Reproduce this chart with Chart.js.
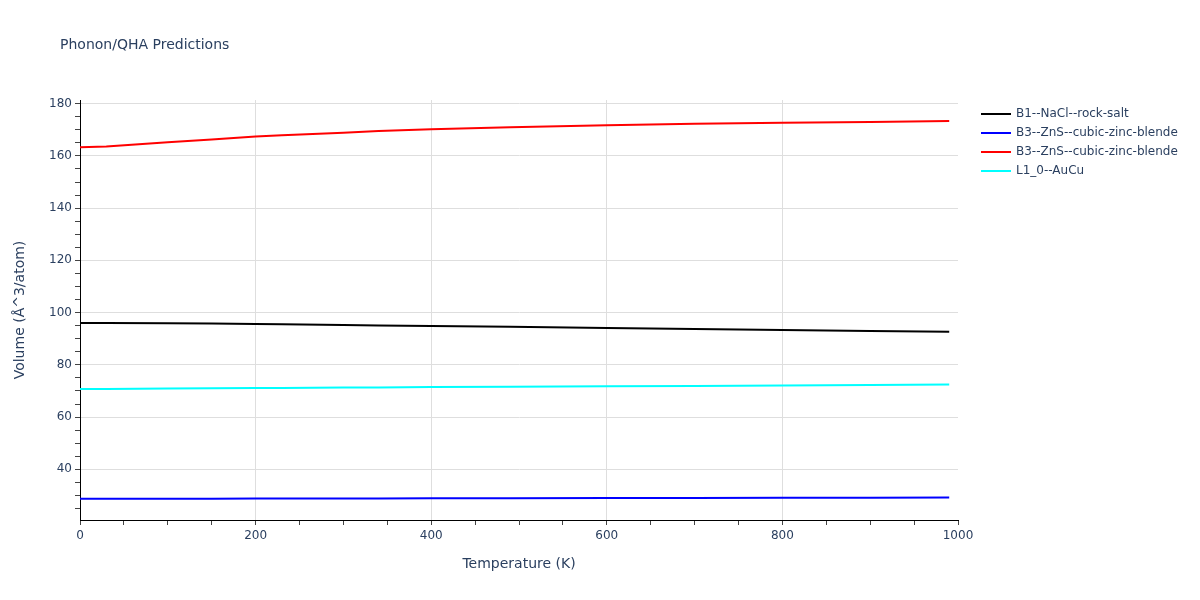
<!DOCTYPE html>
<html lang="en">
<head>
  <meta charset="UTF-8">
  <title>Phonon/QHA Predictions</title>
  <script src="https://cdn.jsdelivr.net/npm/chart.js"></script>
  <style>
    html, body { margin: 0; padding: 0; background: #fff; }
    #wrap { width: 1200px; height: 600px; }
  </style>
</head>
<body>
  <div id="wrap"><canvas id="chart" width="1200" height="600"></canvas></div>
  <script>
    // values
    const temperatures = [0, 30, 100, 150, 200, 230, 300, 340, 400, 490, 600, 700, 800, 900, 990];
    const rockSalt   = [96.0, 96.0, 95.9, 95.8, 95.6, 95.5, 95.3, 95.1, 94.9, 94.6, 94.1, 93.7, 93.3, 93.0, 92.7];
    const zincBlende1 = [28.7, 28.7, 28.7, 28.7, 28.8, 28.8, 28.8, 28.8, 28.9, 28.9, 29.0, 29.0, 29.1, 29.1, 29.2];
    const zincBlende2 = [163.3, 163.6, 165.2, 166.3, 167.4, 167.9, 168.9, 169.5, 170.2, 171.0, 171.7, 172.3, 172.7, 173.0, 173.4];
    const auCu       = [70.8, 70.8, 70.9, 71.0, 71.1, 71.1, 71.3, 71.3, 71.5, 71.6, 71.8, 71.9, 72.1, 72.3, 72.5];
    const seriesNames = ['B1--NaCl--rock-salt', 'B3--ZnS--cubic-zinc-blende', 'B3--ZnS--cubic-zinc-blende', 'L1_0--AuCu'];
    const seriesColors = ['#000000', '#0000ff', '#ff0000', '#00ffff'];
    const xTicks = [0, 50, 100, 150, 200, 250, 300, 350, 400, 450, 500, 550, 600, 650, 700, 750, 800, 850, 900, 950, 1000];
    const xLabels = [0, 200, 400, 600, 800, 1000];
    const yTicks = [25, 30, 35, 40, 45, 50, 55, 60, 65, 70, 75, 80, 85, 90, 95, 100, 105, 110, 115, 120, 125, 130, 135, 140, 145, 150, 155, 160, 165, 170, 175, 180];
    const yLabels = [40, 60, 80, 100, 120, 140, 160, 180];

    const font = "'DejaVu Sans', Verdana, sans-serif";
    const textColor = '#2a3f5f';
    const gridColor = '#dedede';

    const toPoints = vals => vals.map((v, i) => ({ x: temperatures[i], y: v }));
    const allSeries = [rockSalt, zincBlende1, zincBlende2, auCu];

    // title and legend drawn by hand, plotly style
    const extras = {
      id: 'extras',
      afterDraw(chart) {
        const ctx = chart.ctx;
        ctx.save();
        ctx.font = '14px ' + font;
        ctx.fillStyle = textColor;
        ctx.textBaseline = 'middle';
        ctx.fillText('Phonon/QHA Predictions', 60, 45);
        ctx.font = '12px ' + font;
        chart.data.datasets.forEach((ds, i) => {
          const y = 114 + i * 19;
          ctx.strokeStyle = ds.borderColor;
          ctx.lineWidth = 2;
          ctx.beginPath();
          ctx.moveTo(981, y);
          ctx.lineTo(1011, y);
          ctx.stroke();
          ctx.fillStyle = textColor;
          ctx.fillText(ds.label, 1016, y);
        });
        ctx.restore();
      }
    };

    new Chart(document.getElementById('chart'), {
      type: 'line',
      data: {
        datasets: allSeries.map((vals, i) => ({
          label: seriesNames[i],
          data: toPoints(vals),
          borderColor: seriesColors[i],
          backgroundColor: seriesColors[i],
          borderWidth: 2,
          pointRadius: 0,
          tension: 0,
          fill: false
        }))
      },
      options: {
        responsive: false,
        animation: false,
        layout: { padding: { top: 100, right: 242, left: 0, bottom: 0 } },
        plugins: { legend: { display: false }, tooltip: { enabled: false } },
        scales: {
          x: {
            type: 'linear',
            min: 0,
            max: 1000,
            afterBuildTicks: s => { s.ticks = xTicks.map(v => ({ value: v })); },
            afterFit: s => { s.height = 80; },
            ticks: {
              autoSkip: false,
              maxRotation: 0,
              padding: 4,
              color: textColor,
              font: { family: font, size: 12 },
              callback: v => xLabels.includes(v) ? String(v) : ''
            },
            grid: {
              tickLength: 5,
              tickColor: '#444',
              color: c => (c.tick && xLabels.includes(c.tick.value) && c.tick.value > 0 && c.tick.value < 1000) ? gridColor : 'rgba(0,0,0,0)'
            },
            border: { color: '#000', width: 1 },
            title: {
              display: true,
              text: 'Temperature (K)',
              color: textColor,
              font: { family: font, size: 14 },
              padding: { top: 10, bottom: 27 }
            }
          },
          y: {
            type: 'linear',
            min: 20.6,
            max: 181.4,
            afterBuildTicks: s => { s.ticks = yTicks.map(v => ({ value: v })); },
            afterFit: s => { s.width = 80; },
            ticks: {
              autoSkip: false,
              padding: 3,
              color: textColor,
              font: { family: font, size: 12 },
              callback: v => yLabels.includes(v) ? String(v) : ''
            },
            grid: {
              tickLength: 5,
              tickColor: '#444',
              color: c => (c.tick && yLabels.includes(c.tick.value)) ? gridColor : 'rgba(0,0,0,0)'
            },
            border: { color: '#000', width: 1 },
            title: {
              display: true,
              text: 'Volume (Å^3/atom)',
              color: textColor,
              font: { family: font, size: 14 },
              padding: { top: 12, bottom: 0 }
            }
          }
        }
      },
      plugins: [extras]
    });
  </script>
</body>
</html>
